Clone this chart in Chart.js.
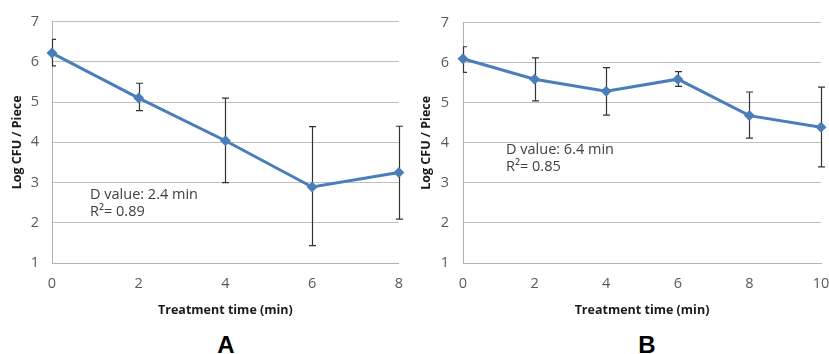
<!DOCTYPE html>
<html>
<head>
<meta charset="utf-8">
<script src="https://cdn.jsdelivr.net/npm/chart.js@4"></script>
<style>
  body { margin: 0; background: #fff; width: 829px; height: 354px; position: relative; overflow: hidden; }
  .box { position: absolute; top: 0; height: 330px; }
  .panel { position: absolute; top: 345px; font: bold 24px "Liberation Sans", Arial, sans-serif; color: #000; transform: translate(-50%, -50%); }
</style>
</head>
<body>
<div class="box" style="left:0;width:415px"><canvas id="chartA" width="415" height="330"></canvas></div>
<div class="box" style="left:415px;width:430px"><canvas id="chartB" width="430" height="330"></canvas></div>
<div class="panel" style="left:226px">A</div>
<div class="panel" style="left:647px">B</div>
<script>
// panel A
var timesA = [0, 2, 4, 6, 8]
var meanA  = [6.22, 5.10, 4.04, 2.89, 3.25]
var upperA = [6.56, 5.47, 5.10, 4.39, 4.40]
var lowerA = [5.90, 4.79, 3.00, 1.43, 2.09]
var noteA  = ["D value: 2.4 min", "R\u00b2= 0.89"]

// panel B
var timesB = [0, 2, 4, 6, 8, 10]
var meanB  = [6.10, 5.59, 5.29, 5.59, 4.68, 4.39]
var upperB = [6.40, 6.12, 5.88, 5.78, 5.27, 5.39]
var lowerB = [5.76, 5.05, 4.69, 5.41, 4.12, 3.40]
var noteB  = ["D value: 6.4 min", "R\u00b2= 0.85"]

var yTicks = [1, 2, 3, 4, 5, 6, 7]
var xLabel = "Treatment time (min)"
var yLabel = "Log CFU / Piece"

var blue = "#4a7ebb"
var tickFont = { family: "'Open Sans', sans-serif", size: 14.5 }
var titleFont = { family: "'Open Sans', sans-serif", size: 12.5, weight: "bold" }

var errorBars = {
  id: "errorBars",
  beforeDatasetsDraw: function (chart, args, opts) {
    var ctx = chart.ctx, xs = chart.scales.x, ys = chart.scales.y
    var area = chart.chartArea
    ctx.save()
    ctx.strokeStyle = "#333333"
    ctx.lineWidth = 1.2
    opts.xs.forEach(function (t, i) {
      var x = Math.round(xs.getPixelForValue(t)) + 0.5
      var yt = ys.getPixelForValue(opts.hi[i])
      var yb = ys.getPixelForValue(opts.lo[i])
      var l = Math.max(x - 3.5, area.left)
      var r = x + 3.5
      ctx.beginPath()
      ctx.moveTo(x, yt); ctx.lineTo(x, yb)
      ctx.moveTo(l, yt); ctx.lineTo(r, yt)
      ctx.moveTo(l, yb); ctx.lineTo(r, yb)
      ctx.stroke()
    })
    ctx.restore()
  },
  afterDraw: function (chart, args, opts) {
    var ctx = chart.ctx
    ctx.save()
    ctx.fillStyle = "#404040"
    ctx.font = "14.5px 'Open Sans', sans-serif"
    ctx.textBaseline = "middle"
    opts.note.forEach(function (s, i) {
      ctx.fillText(s, opts.noteX, opts.noteY + i * 17)
    })
    ctx.restore()
  }
}

function makeChart(id, times, mean, hi, lo, note, cfg) {
  return new Chart(document.getElementById(id), {
    type: "line",
    data: {
      datasets: [{
        data: times.map(function (t, i) { return { x: t, y: mean[i] } }),
        borderColor: blue,
        backgroundColor: blue,
        borderWidth: 3,
        pointStyle: "rectRot",
        pointRadius: 5.5,
        pointBorderWidth: 0,
        tension: 0,
        clip: false
      }]
    },
    options: {
      responsive: false,
      animation: false,
      events: [],
      layout: { padding: { top: cfg.top, right: cfg.right, left: 0, bottom: 0 } },
      plugins: {
        legend: { display: false },
        tooltip: { enabled: false },
        errorBars: { xs: times, hi: hi, lo: lo, note: note, noteX: cfg.noteX, noteY: cfg.noteY }
      },
      scales: {
        x: {
          type: "linear",
          min: 0,
          max: times[times.length - 1],
          afterBuildTicks: function (s) { s.ticks = times.map(function (t) { return { value: t } }) },
          afterFit: function (s) { s.height = 330 - cfg.bottom },
          grid: { display: false, drawTicks: false },
          border: { display: true, color: "#b0b0b0", width: 1 },
          ticks: { font: tickFont, color: "#595959", padding: 12, maxRotation: 0 },
          title: { display: true, text: xLabel, font: titleFont, color: "#1a1a1a", padding: { top: 0, bottom: 12 } }
        },
        y: {
          min: 1,
          max: 7,
          afterBuildTicks: function (s) { s.ticks = yTicks.map(function (t) { return { value: t } }) },
          afterFit: function (s) { s.width = cfg.left },
          grid: { color: "#bfbfbf", lineWidth: 1, drawTicks: false },
          border: { display: true, color: "#b0b0b0", width: 1 },
          ticks: { font: tickFont, color: "#595959", padding: cfg.tickPad },
          title: { display: true, text: yLabel, font: titleFont, color: "#1a1a1a", padding: { top: cfg.titlePad, bottom: 0 } }
        }
      }
    },
    plugins: [errorBars]
  })
}

makeChart("chartA", timesA, meanA, upperA, lowerA, noteA,
  { left: 52, right: 14, top: 21, bottom: 263, tickPad: 13, titlePad: 10, noteX: 90, noteY: 195 })
makeChart("chartB", timesB, meanB, upperB, lowerB, noteB,
  { left: 48, right: 24, top: 17, bottom: 263, tickPad: 14, titlePad: 4, noteX: 91, noteY: 150 })
</script>
</body>
</html>
